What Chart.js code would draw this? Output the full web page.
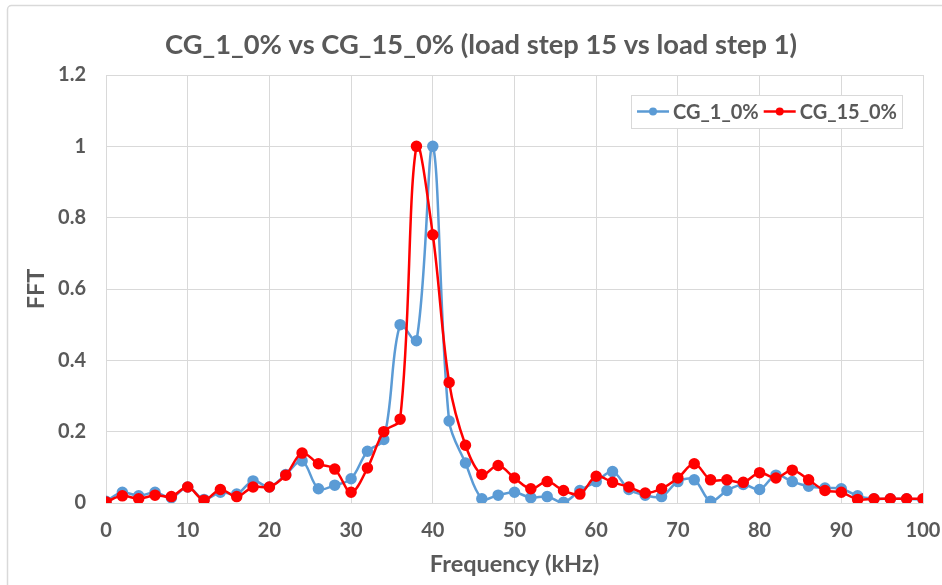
<!DOCTYPE html>
<html>
<head>
<meta charset="utf-8">
<script src="https://cdn.jsdelivr.net/npm/chart.js@4"></script>
<style>
  html, body { margin: 0; padding: 0; background: #fff; }
  canvas { display: block; }
</style>
</head>
<body>
<canvas id="fftChart" width="942" height="585"></canvas>
<script>
// frequency steps (kHz)
const freqs = [0, 2, 4, 6, 8, 10, 12, 14, 16, 18, 20, 22, 24, 26, 28, 30, 32, 34, 36, 38, 40,
  42, 44, 46, 48, 50, 52, 54, 56, 58, 60, 62, 64, 66, 68, 70, 72, 74, 76, 78, 80,
  82, 84, 86, 88, 90, 92, 94, 96, 98, 100];

const cg1 = [0.005, 0.03, 0.02, 0.03, 0.015, 0.045, 0.01, 0.03, 0.025, 0.062, 0.045,
  0.08, 0.118, 0.04, 0.05, 0.068, 0.145, 0.178, 0.50, 0.455, 1.0,
  0.23, 0.112, 0.012, 0.022, 0.03, 0.015, 0.018, 0.002, 0.035, 0.06,
  0.088, 0.038, 0.022, 0.018, 0.06, 0.065, 0.005, 0.035, 0.052, 0.038,
  0.078, 0.06, 0.047, 0.042, 0.04, 0.02, 0.012, 0.012, 0.012, 0.01];

const cg15 = [0.003, 0.02, 0.012, 0.022, 0.018, 0.045, 0.008, 0.038, 0.018, 0.045, 0.045,
  0.078, 0.14, 0.11, 0.095, 0.03, 0.098, 0.2, 0.235, 1.0, 0.752,
  0.338, 0.162, 0.08, 0.105, 0.07, 0.04, 0.06, 0.035, 0.025, 0.075,
  0.058, 0.045, 0.028, 0.04, 0.07, 0.11, 0.065, 0.065, 0.058, 0.085,
  0.07, 0.092, 0.065, 0.035, 0.03, 0.01, 0.012, 0.012, 0.012, 0.012];

const seriesNames = ["CG_1_0%", "CG_15_0%"];
const seriesColors = ["#5b9bd5", "#ff0000"];
const titleText = "CG_1_0% vs CG_15_0% (load step 15 vs load step 1)";

const textGray = "#595959";
const gridGray = "#d9d9d9";
const fontFam = "Lato, 'Open Sans', sans-serif";

const toPoints = (vals) => vals.map((v, i) => ({ x: freqs[i], y: v }));

// white background, outer frame and the chart title
const framePlugin = {
  id: "frame",
  beforeDraw(chart) {
    const c = chart.ctx;
    c.save();
    c.fillStyle = "#fff";
    c.fillRect(0, 0, chart.width, chart.height);
    c.strokeStyle = gridGray;
    c.lineWidth = 1.5;
    c.beginPath();
    c.roundRect(7.5, 5.5, chart.width + 20, chart.height + 20, 4);
    c.stroke();
    c.fillStyle = textGray;
    c.font = "bold 27.3px " + fontFam;
    c.textAlign = "center";
    c.textBaseline = "middle";
    c.fillText(titleText, 481, 45);
    c.restore();
  }
};

// excel style legend box inside the plot
const legendBoxPlugin = {
  id: "legendBox",
  afterDraw(chart) {
    const c = chart.ctx;
    const area = chart.chartArea;
    c.save();
    c.font = "bold 20px " + fontFam;
    const items = chart.data.datasets.slice().sort((a, b) => a.legendIdx - b.legendIdx);
    let boxW = 6;
    items.forEach((ds) => { boxW += 32 + 4 + c.measureText(ds.label).width + 5; });
    const boxH = 33;
    const bx = area.right - 21 - boxW;
    const by = area.top + 20;
    c.fillStyle = "#fff";
    c.fillRect(bx, by, boxW, boxH);
    c.strokeStyle = gridGray;
    c.lineWidth = 1;
    c.strokeRect(bx + 0.5, by + 0.5, boxW, boxH);
    c.textBaseline = "middle";
    let x = bx + 6;
    const cy = by + boxH / 2;
    items.forEach((ds) => {
      c.strokeStyle = ds.borderColor;
      c.lineWidth = 2.5;
      c.beginPath();
      c.moveTo(x, cy);
      c.lineTo(x + 32, cy);
      c.stroke();
      c.fillStyle = ds.borderColor;
      c.beginPath();
      c.arc(x + 16, cy, 4, 0, Math.PI * 2);
      c.fill();
      c.fillStyle = textGray;
      c.fillText(ds.label, x + 36, cy + 1);
      x += 36 + c.measureText(ds.label).width + 5;
    });
    c.restore();
  }
};

new Chart(document.getElementById("fftChart"), {
  type: "line",
  data: {
    datasets: [
      {
        label: seriesNames[1],
        legendIdx: 1,
        data: toPoints(cg15),
        borderColor: seriesColors[1],
        backgroundColor: seriesColors[1],
        borderWidth: 2.5,
        pointRadius: 4.5,
        pointHoverRadius: 4.5,
        tension: 0.35,
        order: 0
      },
      {
        label: seriesNames[0],
        legendIdx: 0,
        data: toPoints(cg1),
        borderColor: seriesColors[0],
        backgroundColor: seriesColors[0],
        borderWidth: 2.5,
        pointRadius: 4.5,
        pointHoverRadius: 4.5,
        tension: 0.35,
        order: 1
      }
    ]
  },
  options: {
    responsive: false,
    animation: false,
    layout: { padding: { left: 0, right: 19, top: 75, bottom: 0 } },
    plugins: {
      legend: { display: false },
      tooltip: { enabled: false },
      title: { display: false }
    },
    scales: {
      x: {
        type: "linear",
        min: 0,
        max: 100,
        ticks: {
          stepSize: 10,
          color: textGray,
          padding: 16,
          font: { family: fontFam, size: 20, weight: "bold" }
        },
        grid: { color: gridGray, drawTicks: false },
        border: { color: gridGray },
        title: {
          display: true,
          text: "Frequency (kHz)",
          color: textGray,
          font: { family: fontFam, size: 23.5, weight: "bold" },
          padding: 6
        },
        afterFit(scale) {
          scale.height = 82;
          scale.paddingLeft = 0;
          scale.paddingRight = 0;
        }
      },
      y: {
        min: 0,
        max: 1.2,
        ticks: {
          stepSize: 0.2,
          color: textGray,
          padding: 20,
          font: { family: fontFam, size: 20, weight: "bold" },
          callback: (v) => Math.round(v * 10) / 10
        },
        grid: { color: gridGray, drawTicks: false },
        border: { color: gridGray },
        title: {
          display: true,
          text: "FFT",
          color: textGray,
          font: { family: fontFam, size: 23.5, weight: "bold" },
          padding: 22
        },
        afterFit(scale) { scale.width = 106; }
      }
    }
  },
  plugins: [framePlugin, legendBoxPlugin]
});
</script>
</body>
</html>
